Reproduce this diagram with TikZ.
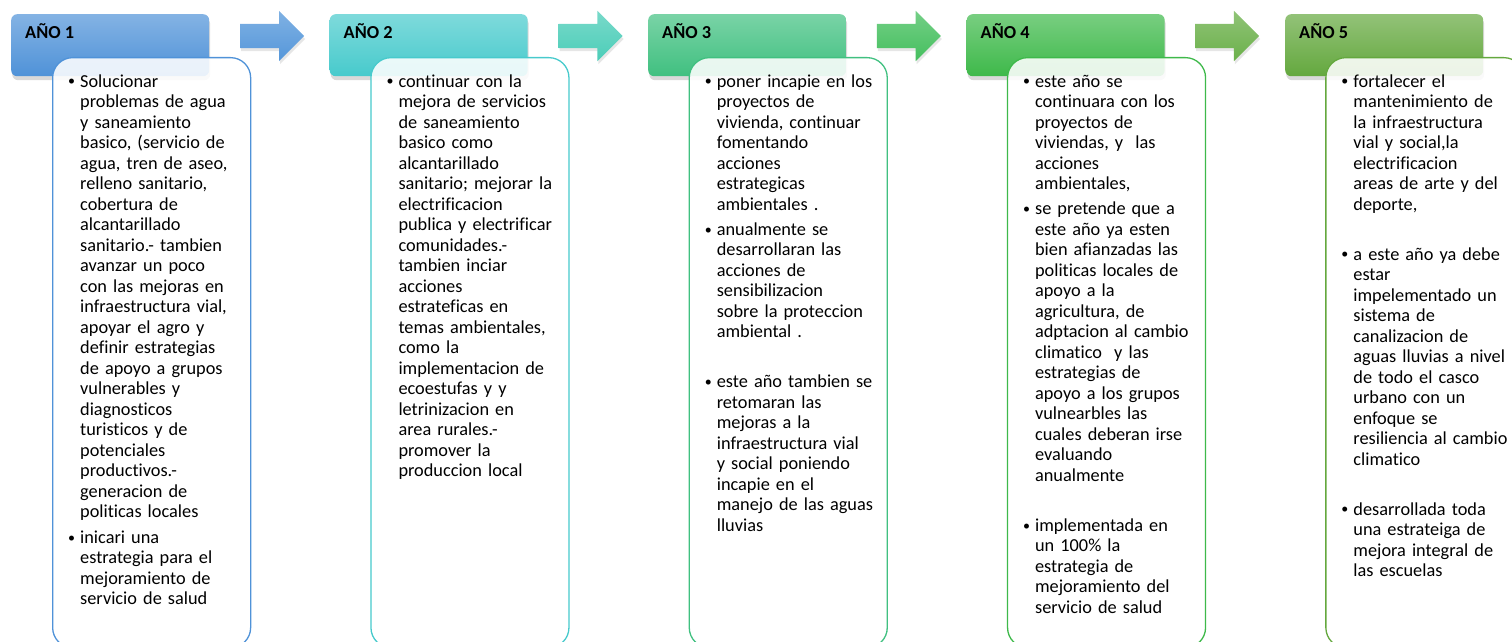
\documentclass[tikz,border=0pt]{standalone}
\usepackage{fontspec}
\setmainfont{Carlito}[Ligatures=NoCommon]
\usetikzlibrary{positioning, calc, shapes.arrows, shadows}

\definecolor{hdrA}{HTML}{4F92D8}
\definecolor{hdrB}{HTML}{47CACC}
\definecolor{hdrC}{HTML}{40C080}
\definecolor{hdrD}{HTML}{3EB94A}
\definecolor{hdrE}{HTML}{64A83E}
\definecolor{arrA}{HTML}{5597DA}
\definecolor{arrB}{HTML}{4CCDB8}
\definecolor{arrC}{HTML}{45BF5E}
\definecolor{arrD}{HTML}{6BB04A}

\newcommand{\bul}{\leavevmode\llap{\raisebox{1.2pt}{\fontsize{14pt}{14pt}\selectfont\textbullet}\hspace{5pt}}}

\begin{document}
\begin{tikzpicture}[x=1pt, y=-1pt,
    yearhdr/.style={rounded corners=6pt, minimum width=198pt, minimum height=62pt,
        anchor=north west, inner sep=0pt,
        drop shadow={opacity=0.3, shadow xshift=1pt, shadow yshift=-4pt}},
    yearbox/.style={draw, line width=1.3pt, rounded corners=20pt, fill=white,
        fill opacity=0.88, minimum width=198pt, minimum height=590pt,
        anchor=north west, inner sep=0pt},
    yeararrow/.style={single arrow, single arrow head extend=13pt, minimum height=64pt,
        inner sep=0pt, inner ysep=12pt, anchor=tail,
        drop shadow={opacity=0.2, shadow xshift=1pt, shadow yshift=-3pt}},
    hdrtxt/.style={font=\bfseries\fontsize{18.3pt}{20.5pt}\selectfont,
        anchor=base west, inner sep=0pt},
    bullets/.style={font=\fontsize{18.3pt}{20.5pt}\selectfont, text width=175pt,
        align=left, inner sep=0pt}]
    \useasboundingbox (0,0) rectangle (1512,642);
    \clip (0,0) rectangle (1512,642);

    % arrows between the years
    \foreach \i/\c in {1/arrA, 2/arrB, 3/arrC, 4/arrD}
        \node[yeararrow, top color=\c!75!white, bottom color=\c] (arr\i) at ({240+318.3*(\i-1)},36) {};

    % year headers
    \foreach \i/\c in {1/hdrA, 2/hdrB, 3/hdrC, 4/hdrD, 5/hdrE} {
        \node[yearhdr, top color=\c!70!white, bottom color=\c] (hdr\i) at ({11+318.5*(\i-1)},14) {};
        \node[hdrtxt] (lab\i) at ($(hdr\i.north west)+(14,25)$) {AÑO \i};
    }

    % text boxes
    \foreach \i/\c in {1/hdrA, 2/hdrB, 3/hdrC, 4/hdrD, 5/hdrE}
        \node[yearbox, draw=\c] (box\i) at ({52+318.3*(\i-1)},57) {};

    \node[bullets, below right=15pt and 28pt of box1.north west] (txt1) {\rule{0pt}{15pt}\bul Solucionar\\
        problemas de agua\\
        y saneamiento\\
        basico, (servicio de\\
        agua, tren de aseo,\\
        relleno sanitario,\\
        cobertura de\\
        alcantarillado\\
        sanitario.- tambien\\
        avanzar un poco\\
        con las mejoras en\\
        infraestructura vial,\\
        apoyar el agro y\\
        definir estrategias\\
        de apoyo a grupos\\
        vulnerables y\\
        diagnosticos\\
        turisticos y de\\
        potenciales\\
        productivos.-\\
        generacion de\\
        politicas locales\\[5pt]
        \bul inicari una\\
        estrategia para el\\
        mejoramiento de\\
        servicio de salud};

    \node[bullets, below right=15pt and 28pt of box2.north west] (txt2) {\rule{0pt}{15pt}\bul continuar con la\\
        mejora de servicios\\
        de saneamiento\\
        basico como\\
        alcantarillado\\
        sanitario; mejorar la\\
        electrificacion\\
        publica y electrificar\\
        comunidades.-\\
        tambien inciar\\
        acciones\\
        estrateficas en\\
        temas ambientales,\\
        como la\\
        implementacion de\\
        ecoestufas y y\\
        letrinizacion en\\
        area rurales.-\\
        promover la\\
        produccion local};

    \node[bullets, below right=15pt and 28pt of box3.north west] (txt3) {\rule{0pt}{15pt}\bul poner incapie en los\\
        proyectos de\\
        vivienda, continuar\\
        fomentando\\
        acciones\\
        estrategicas\\
        ambientales .\\[4.5pt]
        \bul anualmente se\\
        desarrollaran las\\
        acciones de\\
        sensibilizacion\\
        sobre la proteccion\\
        ambiental .\\[4.5pt]
        \mbox{}\\[4.5pt]
        \bul este año tambien se\\
        retomaran las\\
        mejoras a la\\
        infraestructura vial\\
        y social poniendo\\
        incapie en el\\
        manejo de las aguas\\
        lluvias};

    \node[bullets, below right=15pt and 28pt of box4.north west] (txt4) {\rule{0pt}{15pt}\bul este año se\\
        continuara con los\\
        proyectos de\\
        viviendas, y\ \ las\\
        acciones\\
        ambientales,\\[4.5pt]
        \bul se pretende que a\\
        este año ya esten\\
        bien afianzadas las\\
        politicas locales de\\
        apoyo a la\\
        agricultura, de\\
        adptacion al cambio\\
        climatico\ \ y las\\
        estrategias de\\
        apoyo a los grupos\\
        vulnearbles las\\
        cuales deberan irse\\
        evaluando\\
        anualmente\\[4.5pt]
        \mbox{}\\[4.5pt]
        \bul implementada en\\
        un 100\% la\\
        estrategia de\\
        mejoramiento del\\
        servicio de salud};

    \node[bullets, below right=15pt and 28pt of box5.north west] (txt5) {\rule{0pt}{15pt}\bul fortalecer el\\
        mantenimiento de\\
        la infraestructura\\
        vial y social,la\\
        electrificacion\\
        areas de arte y del\\
        deporte,\\[4.5pt]
        \mbox{}\\[4.5pt]
        \bul a este año ya debe\\
        estar\\
        impelementado un\\
        sistema de\\
        canalizacion de\\
        aguas lluvias a nivel\\
        de todo el casco\\
        urbano con un\\
        enfoque se\\
        resiliencia al cambio\\
        climatico\\[4.5pt]
        \mbox{}\\[4.5pt]
        \bul desarrollada toda\\
        una estrateiga de\\
        mejora integral de\\
        las escuelas};
\end{tikzpicture}
\end{document}
